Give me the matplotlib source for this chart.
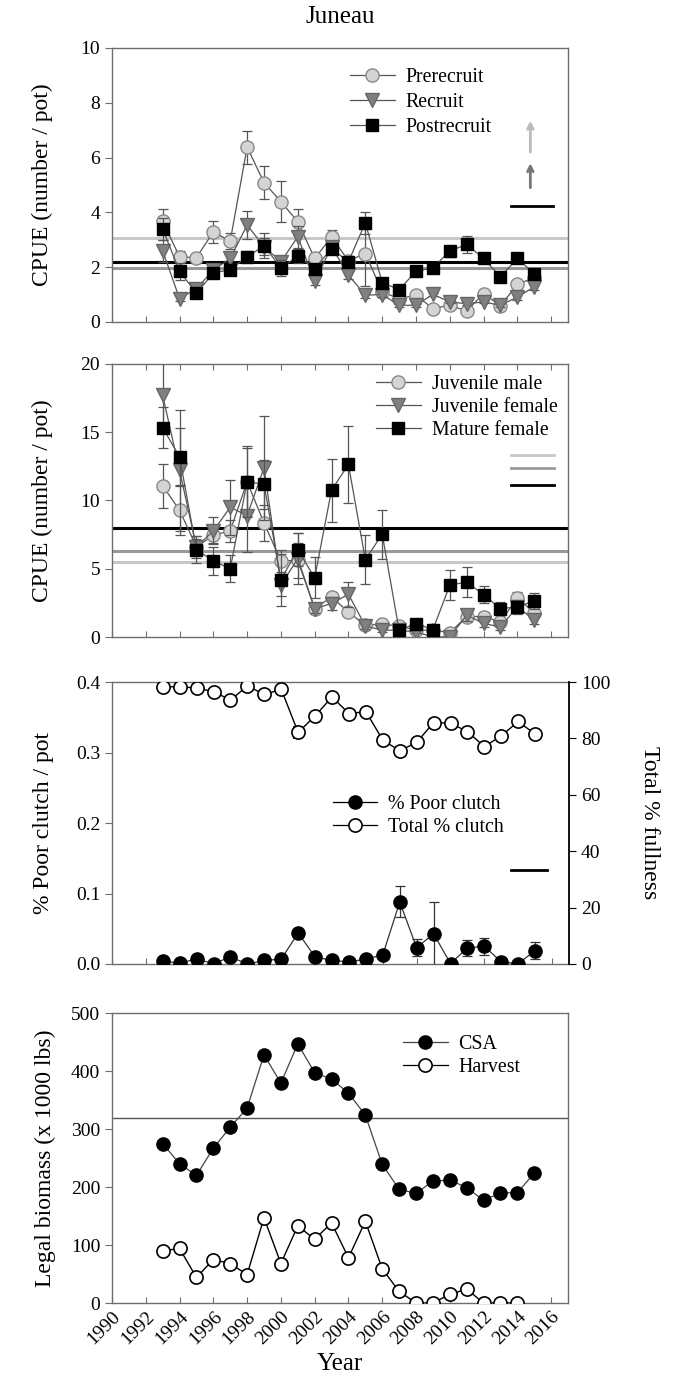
import matplotlib
matplotlib.use("Agg")
import matplotlib.pyplot as plt
from matplotlib.lines import Line2D
import numpy as np

plt.rcParams['font.family'] = ['Liberation Serif', 'DejaVu Serif']

years = list(range(1993, 2016))

# Panel 1: CPUE by size class
prerecruit = [3.68, 2.38, 2.35, 3.29, 2.95, 6.38, 5.09, 4.39, 3.66, 2.32, 3.11, 2.23, 2.5, 1.1, 0.85, 0.98, 0.49, 0.61, 0.40, 1.04, 0.59, 1.37, 1.62]
prerecruit_err = [0.45, 0.2, 0.1, 0.4, 0.3, 0.6, 0.6, 0.75, 0.45, 0.15, 0.25, 0.15, 1.2, 0.1, 0.1, 0.1, 0.05, 0.05, 0.05, 0.1, 0.05, 0.1, 0.1]
recruit = [2.6, 0.85, 1.22, 1.9, 2.32, 3.54, 2.75, 2.2, 3.11, 1.49, 2.74, 1.71, 0.98, 1.0, 0.61, 0.61, 1.01, 0.73, 0.67, 0.73, 0.61, 0.91, 1.28]
recruit_err = [0.4, 0.1, 0.15, 0.2, 0.2, 0.5, 0.3, 0.2, 0.4, 0.15, 0.2, 0.15, 0.1, 0.1, 0.05, 0.05, 0.05, 0.05, 0.05, 0.05, 0.05, 0.1, 0.1]
postrecruit = [3.4, 1.85, 1.05, 1.79, 1.91, 2.38, 2.78, 1.98, 2.4, 1.95, 2.68, 2.2, 3.62, 1.44, 1.18, 1.85, 1.98, 2.59, 2.83, 2.32, 1.65, 2.32, 1.77]
postrecruit_err = [0.4, 0.3, 0.1, 0.2, 0.15, 0.2, 0.45, 0.3, 0.25, 0.15, 0.2, 0.15, 0.4, 0.15, 0.1, 0.1, 0.1, 0.2, 0.3, 0.15, 0.1, 0.15, 0.1]
ref1_prerecruit = 3.05
ref1_recruit = 1.98
ref1_postrecruit = 2.2

# Panel 2: CPUE by sex/maturity
juv_male = [11.08, 9.29, 6.6, 7.46, 7.78, 11.37, 8.36, 5.57, 5.62, 2.08, 2.93, 1.83, 0.86, 0.93, 0.81, 0.5, 0.5, 0.32, 1.5, 1.5, 1.1, 2.88, 1.76]
juv_male_err = [1.6, 1.8, 0.6, 0.6, 0.8, 2.5, 1.3, 0.8, 1.3, 0.3, 0.4, 0.3, 0.2, 0.2, 0.2, 0.1, 0.1, 0.1, 0.3, 0.3, 0.2, 0.4, 0.3]
juv_female = [17.7, 12.2, 6.6, 7.78, 9.5, 8.9, 12.4, 3.8, 5.75, 2.08, 2.45, 3.13, 0.81, 0.5, 0.5, 0.37, 0.0, 0.0, 1.6, 1.0, 0.73, 2.2, 1.27]
juv_female_err = [2.5, 4.4, 0.8, 1.0, 2.0, 2.7, 3.8, 0.8, 1.9, 0.3, 0.5, 0.9, 0.2, 0.1, 0.1, 0.1, 0.05, 0.05, 0.4, 0.3, 0.2, 0.4, 0.3]
mature_female = [15.33, 13.2, 6.4, 5.57, 5.0, 11.37, 11.2, 4.2, 6.4, 4.33, 10.76, 12.64, 5.67, 7.53, 0.49, 0.98, 0.54, 3.79, 4.03, 3.1, 2.08, 2.2, 2.64]
mature_female_err = [1.5, 2.1, 1.0, 1.0, 1.0, 2.6, 1.8, 1.9, 1.2, 1.5, 2.3, 2.8, 1.8, 1.8, 0.2, 0.3, 0.2, 1.1, 1.1, 0.6, 0.5, 0.5, 0.6]
ref2_juv_male = 5.5
ref2_juv_female = 6.31
ref2_mature_female = 7.95

# Panel 3: clutch
poor_clutch = [0.004, 0.0015, 0.007, 0.0005, 0.01, 0.0, 0.005, 0.007, 0.044, 0.01, 0.005, 0.003, 0.007, 0.013, 0.088, 0.023, 0.043, 0.0005, 0.023, 0.025, 0.003, 0.0005, 0.019]
poor_clutch_err = [0.001, 0.001, 0.001, 0.001, 0.001, 0.0, 0.001, 0.001, 0.002, 0.001, 0.001, 0.001, 0.001, 0.002, 0.022, 0.012, 0.045, 0.0, 0.011, 0.012, 0.001, 0.0, 0.012]
total_clutch = [98.2, 98.4, 97.8, 96.6, 93.6, 98.6, 95.6, 97.4, 82.1, 88.0, 94.7, 88.8, 89.5, 79.4, 75.6, 78.6, 85.6, 85.4, 82.4, 77.1, 80.9, 86.0, 81.5]
total_clutch_err = [0.8, 0.8, 0.8, 0.8, 0.8, 0.8, 0.8, 0.8, 1.8, 0.8, 0.8, 0.8, 0.8, 0.8, 1.5, 1.0, 0.8, 0.8, 0.8, 0.8, 0.8, 0.8, 1.0]

# Panel 4: biomass
csa = [275, 240, 220, 267, 303, 336, 428, 379, 447, 397, 386, 362, 324, 239, 196, 189, 210, 212, 199, 177, 190, 190, 224]
harvest_years = list(range(1993, 2015))
harvest = [90, 94, 44, 75, 68, 49, 147, 68, 133, 110, 138, 78, 141, 59, 20, 0, 0, 15, 24, 0, 0, 0]
ref4_biomass = 319.5

xticks = list(range(1990, 2017, 2))

W, H = 673, 1383
fig = plt.figure(figsize=(W / 100, H / 100), dpi=100)

def ax_at(left, top, right, bottom):
    return fig.add_axes([left / W, 1 - bottom / H, (right - left) / W, (bottom - top) / H])

SPINE = '#6e6e6e'
FS = 14
LEGFS = 14.3
LFS = 17

def style(ax, top_ticks=False):
    for s in ax.spines.values():
        s.set_color(SPINE)
        s.set_linewidth(1.0)
    ax.set_xlim(1990, 2017)
    ax.set_xticks(xticks)
    ax.tick_params(axis='x', direction='in', length=4, color=SPINE, top=top_ticks, labelbottom=False)
    ax.tick_params(axis='y', direction='out', length=5, color=SPINE, labelsize=FS, right=False)

LINE = '#555555'
c_light = '#d4d4d4'
c_mid = '#808080'
ms = 9.5
ekw = dict(elinewidth=0.9, capsize=3.5, capthick=0.9)

def handle(marker, mfc, mec, label, size=ms, color=LINE, mew=1.0):
    return Line2D([], [], color=color, lw=0.9, marker=marker, ms=size, mfc=mfc, mec=mec, mew=mew, label=label)

legkw = dict(frameon=False, fontsize=LEGFS, handlelength=2.25,
             handletextpad=0.55, borderaxespad=0, borderpad=0, loc='upper left')

# ---------- Panel 1 ----------
ax1 = ax_at(112, 48, 568, 322)
style(ax1)
ax1.set_ylim(0, 10)
ax1.set_yticks([0, 2, 4, 6, 8, 10])
ax1.axhline(ref1_prerecruit, color='#c8c8c8', lw=2.2, zorder=1)
ax1.axhline(ref1_recruit, color='#999999', lw=2.2, zorder=1)
ax1.axhline(ref1_postrecruit, color='black', lw=2.2, zorder=1)
ax1.errorbar(years, prerecruit, yerr=prerecruit_err, color=LINE, lw=0.9, marker='o', ms=ms,
             mfc=c_light, mec='#888888', ecolor=LINE, zorder=3, **ekw)
ax1.errorbar(years, recruit, yerr=recruit_err, color=LINE, lw=0.9, marker='v', ms=ms + 1,
             mfc=c_mid, mec='#666666', ecolor=LINE, zorder=4, **ekw)
ax1.errorbar(years, postrecruit, yerr=postrecruit_err, color=LINE, lw=0.9, marker='s', ms=ms - 0.5,
             mfc='black', mec='black', ecolor=LINE, zorder=5, **ekw)
ax1.legend(handles=[handle('o', c_light, '#888888', 'Prerecruit'),
                    handle('v', c_mid, '#666666', 'Recruit', ms + 1),
                    handle('s', 'black', 'black', 'Postrecruit', ms - 0.5)],
           bbox_to_anchor=(0.522, 0.928), labelspacing=0.3, **legkw)
ax1.annotate('', xy=(2014.77, 7.45), xytext=(2014.77, 6.1),
             arrowprops=dict(arrowstyle='->', color='#bbbbbb', lw=2))
ax1.annotate('', xy=(2014.77, 5.9), xytext=(2014.77, 4.8),
             arrowprops=dict(arrowstyle='->', color='#777777', lw=2))
ax1.plot([2013.6, 2016.1], [4.24, 4.24], color='black', lw=2)
ax1.set_ylabel('CPUE (number / pot)', fontsize=LFS, labelpad=20)

# ---------- Panel 2 ----------
ax2 = ax_at(112, 364, 568, 637)
style(ax2, top_ticks=True)
ax2.set_ylim(0, 20)
ax2.set_yticks([0, 5, 10, 15, 20])
ax2.axhline(ref2_juv_male, color='#c8c8c8', lw=2.2, zorder=1)
ax2.axhline(ref2_juv_female, color='#999999', lw=2.2, zorder=1)
ax2.axhline(ref2_mature_female, color='black', lw=2.2, zorder=1)
ax2.errorbar(years, juv_male, yerr=juv_male_err, color=LINE, lw=0.9, marker='o', ms=ms,
             mfc=c_light, mec='#888888', ecolor=LINE, zorder=3, **ekw)
ax2.errorbar(years, juv_female, yerr=juv_female_err, color=LINE, lw=0.9, marker='v', ms=ms + 1,
             mfc=c_mid, mec='#666666', ecolor=LINE, zorder=4, **ekw)
ax2.errorbar(years, mature_female, yerr=mature_female_err, color=LINE, lw=0.9, marker='s', ms=ms - 0.5,
             mfc='black', mec='black', ecolor=LINE, zorder=5, **ekw)
ax2.legend(handles=[handle('o', c_light, '#888888', 'Juvenile male'),
                    handle('v', c_mid, '#666666', 'Juvenile female', ms + 1),
                    handle('s', 'black', 'black', 'Mature female', ms - 0.5)],
           bbox_to_anchor=(0.579, 0.96), labelspacing=0.2, **legkw)
ax2.plot([2013.6, 2016.2], [13.3, 13.3], color='#c8c8c8', lw=2)
ax2.plot([2013.6, 2016.2], [12.35, 12.35], color='#999999', lw=2)
ax2.plot([2013.6, 2016.2], [11.1, 11.1], color='black', lw=2)
ax2.set_ylabel('CPUE (number / pot)', fontsize=LFS, labelpad=20)

# ---------- Panel 3 ----------
ax3 = ax_at(112, 682, 569, 964)
style(ax3)
ax3.set_ylim(0, 0.4)
ax3.set_yticks([0.0, 0.1, 0.2, 0.3, 0.4])
ax3.set_yticklabels(['0.0', '0.1', '0.2', '0.3', '0.4'])
ax3.spines['right'].set_visible(False)
ax3b = ax3.twinx()
ax3b.set_ylim(0, 100)
ax3b.set_yticks([0, 20, 40, 60, 80, 100])
for s in ax3b.spines.values():
    s.set_visible(False)
ax3b.spines['right'].set_visible(True)
ax3b.spines['right'].set_color('black')
ax3b.spines['right'].set_linewidth(1.3)
ax3b.tick_params(axis='y', direction='out', length=5, color='black', labelsize=FS)
ax3.errorbar(years, poor_clutch, yerr=poor_clutch_err, color='#333333', lw=0.9, marker='o', ms=ms,
             mfc='black', mec='black', ecolor='#333333', zorder=5, **ekw)
ax3b.errorbar(years, total_clutch, yerr=total_clutch_err, color='black', lw=1.0, marker='o', ms=ms,
              mfc='white', mec='black', mew=1.2, ecolor='black', zorder=5, **ekw)
ax3b.legend(handles=[handle('o', 'black', 'black', '% Poor clutch', color='black'),
                     handle('o', 'white', 'black', 'Total % clutch', color='black', mew=1.2)],
            bbox_to_anchor=(0.4825, 0.6), labelspacing=0.2, **legkw)
ax3b.plot([2013.6, 2015.7], [33.3, 33.3], color='black', lw=2)
ax3.set_ylabel('% Poor clutch / pot', fontsize=LFS, labelpad=16)
ax3b.set_ylabel('Total % fullness', fontsize=LFS, rotation=270, labelpad=36)

# ---------- Panel 4 ----------
ax4 = ax_at(112, 1013, 568, 1303)
style(ax4)
ax4.set_ylim(0, 500)
ax4.set_yticks([0, 100, 200, 300, 400, 500])
ax4.axhline(ref4_biomass, color='#555555', lw=1.0, zorder=1)
ax4.plot(years, csa, color='#444444', lw=0.9, marker='o', ms=ms, mfc='black', mec='black', zorder=4)
ax4.plot(harvest_years, harvest, color='black', lw=1.0, marker='o', ms=ms, mfc='white', mec='black',
         mew=1.2, zorder=4)
ax4.legend(handles=[handle('o', 'black', 'black', 'CSA', color='#444444'),
                    handle('o', 'white', 'black', 'Harvest', color='black', mew=1.2)],
           bbox_to_anchor=(0.638, 0.925), labelspacing=0.2, **legkw)
ax4.tick_params(axis='x', labelbottom=True, labelsize=FS)
for lbl in ax4.get_xticklabels():
    lbl.set_rotation(45)
    lbl.set_ha('right')
    lbl.set_rotation_mode('anchor')
ax4.set_ylabel('Legal biomass (x 1000 lbs)', fontsize=LFS, labelpad=11)
ax4.set_xlabel('Year', fontsize=LFS + 1, labelpad=4)

fig.text(340 / W, 1 - 17 / H, 'Juneau', ha='center', va='center', fontsize=LFS + 1)

fig.savefig('out.png', dpi=100)
